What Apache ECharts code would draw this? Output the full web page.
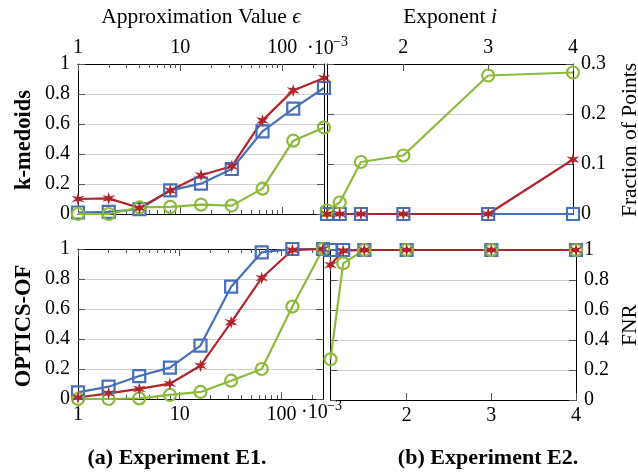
<!DOCTYPE html>
<html>
<head>
<meta charset="utf-8">
<script src="https://cdn.jsdelivr.net/npm/echarts@6/dist/echarts.min.js"></script>
<style>html,body{margin:0;padding:0;background:#fff}#c{width:638px;height:472px}</style>
</head>
<body>
<div id="c"></div>
<script>
// ---- data ----
const eps = [1, 2, 4, 8, 16, 32, 64, 128, 256];
const kmBlue  = [0.01, 0.014, 0.033, 0.158, 0.202, 0.30, 0.551, 0.702, 0.84];
const kmRed   = [0.10, 0.104, 0.04, 0.156, 0.258, 0.318, 0.624, 0.824, 0.907];
const kmGreen = [0, 0, 0.044, 0.047, 0.062, 0.056, 0.169, 0.489, 0.576];
const opBlue  = [0.044, 0.082, 0.153, 0.209, 0.356, 0.749, 0.978, 1, 1];
const opRed   = [0.01, 0.038, 0.067, 0.102, 0.222, 0.511, 0.807, 0.993, 1];
const opGreen = [0, 0, 0.004, 0.027, 0.047, 0.122, 0.2, 0.616, 1];

const exps = [1.1, 1.25, 1.5, 2, 3, 4];
const frBlue  = [0, 0, 0, 0, 0, 0];
const frRed   = [0, 0, 0, 0, 0, 0.109];
const frGreen = [0.007, 0.023, 0.104, 0.117, 0.277, 0.283];
const fnBlue  = [1, 1, 1, 1, 1, 1];
const fnRed   = [0.9, 0.995, 1, 1, 1, 1];
const fnGreen = [0.271, 0.911, 1, 1, 1, 1];

const epsMajorTicks = [1, 10, 100];
const epsMinorTicks = [2,3,4,5,6,7,8,9,20,30,40,50,60,70,80,90,200];
const expTicks = [2, 3, 4];

// ---- style ----
const FONT = 'Liberation Serif';
const BLUE = '#4770b8', RED = '#b0242b', GREEN = '#8cba3c';
const TICKC = '#555', GRIDC = '#cfcfcf';
const STAR = 'path://M50,0 L59,34.4 L93.3,25 L68,50 L93.3,75 L59,65.6 L50,100 L41,65.6 L6.7,75 L32,50 L6.7,25 L41,34.4 Z';
const AXLINE = {show: true, onZero: false, lineStyle: {color: '#000', width: 1}};

const zip = (xs, ys) => xs.map((x, i) => [x, ys[i]]);

function logX(grid, pos, ticks, len, labels) {
  return {
    type: 'log', logBase: 10, min: 1, max: 256, gridIndex: grid, position: pos,
    axisLine: AXLINE,
    axisTick: {show: true, inside: true, length: len, customValues: ticks, lineStyle: {color: TICKC, width: 1}},
    axisLabel: labels ? {show: true, customValues: epsMajorTicks, margin: 6, fontFamily: FONT, fontSize: 20, color: '#000'} : {show: false},
    splitLine: {show: false}, minorTick: {show: false}
  };
}
function linX(grid, pos, labels) {
  return {
    type: 'value', min: 1.1, max: 4, gridIndex: grid, position: pos,
    axisLine: AXLINE,
    axisTick: {show: true, inside: true, length: 7, customValues: expTicks, lineStyle: {color: TICKC, width: 1}},
    axisLabel: labels ? {show: true, customValues: expTicks, margin: 6, fontFamily: FONT, fontSize: 20, color: '#000'} : {show: false},
    splitLine: {show: false}
  };
}
function valY(grid, pos, max, interval, labels) {
  return {
    type: 'value', min: 0, max: max, interval: interval, gridIndex: grid, position: pos,
    axisLine: AXLINE,
    axisTick: {show: true, inside: true, length: 7, lineStyle: {color: TICKC, width: 1}},
    axisLabel: labels ? {show: true, margin: 8, fontFamily: FONT, fontSize: 20, color: '#000'} : {show: false},
    splitLine: labels ? {show: true, lineStyle: {color: GRIDC, width: 1}} : {show: false}
  };
}

function ser(xi, yi, xs, ys, kind) {
  const base = {type: 'line', xAxisIndex: xi, yAxisIndex: yi, data: zip(xs, ys), clip: false, animation: false, z: 3};
  if (kind === 'b') return Object.assign(base, {symbol: 'rect', symbolSize: 12, lineStyle: {color: BLUE, width: 2.2},
    itemStyle: {color: 'rgba(0,0,0,0)', borderColor: BLUE, borderWidth: 2.2}});
  if (kind === 'g') return Object.assign(base, {symbol: 'circle', symbolSize: 12, lineStyle: {color: GREEN, width: 2.2},
    itemStyle: {color: 'rgba(0,0,0,0)', borderColor: GREEN, borderWidth: 2.2}});
  return Object.assign(base, {symbol: STAR, symbolSize: 13, lineStyle: {color: RED, width: 2.2},
    itemStyle: {color: RED, borderWidth: 0}});
}

function txt(x, y, text, opts) {
  return {type: 'text', x: x, y: y, rotation: (opts && opts.rot) || 0, z: 10,
    style: Object.assign({text: text, fontFamily: FONT, fontSize: 21.5, fill: '#000',
      align: 'center', verticalAlign: 'middle', textAlign: 'center', textVerticalAlign: 'middle'}, (opts && opts.style) || {})};
}

const chart = echarts.init(document.getElementById('c'), null, {renderer: 'canvas'});
const gridStyle = {show: false, containLabel: false};
chart.setOption({
  animation: false,
  grid: [
    Object.assign({left: 78, top: 64, width: 246, height: 150}, gridStyle),
    Object.assign({left: 327, top: 64, width: 246, height: 150}, gridStyle),
    Object.assign({left: 78, top: 249, width: 245, height: 150}, gridStyle),
    Object.assign({left: 330.5, top: 250, width: 245.5, height: 150}, gridStyle)
  ],
  xAxis: [
    logX(0, 'top', epsMajorTicks, 7, true),
    logX(0, 'top', epsMinorTicks, 4, false),
    logX(0, 'bottom', epsMajorTicks, 7, false),
    logX(0, 'bottom', epsMinorTicks, 4, false),
    linX(1, 'top', true),
    linX(1, 'bottom', false),
    logX(2, 'bottom', epsMajorTicks, 7, true),
    logX(2, 'bottom', epsMinorTicks, 4, false),
    logX(2, 'top', epsMajorTicks, 7, false),
    logX(2, 'top', epsMinorTicks, 4, false),
    linX(3, 'bottom', true),
    linX(3, 'top', false)
  ],
  yAxis: [
    valY(0, 'left', 1, 0.2, true),
    valY(0, 'right', 1, 0.2, false),
    valY(1, 'right', 0.3, 0.1, true),
    valY(1, 'left', 0.3, 0.1, false),
    valY(2, 'left', 1, 0.2, true),
    valY(2, 'right', 1, 0.2, false),
    valY(3, 'right', 1, 0.2, true),
    valY(3, 'left', 1, 0.2, false)
  ],
  series: [
    ser(0, 0, eps, kmBlue, 'b'), ser(0, 0, eps, kmGreen, 'g'), ser(0, 0, eps, kmRed, 'r'),
    ser(4, 2, exps, frBlue, 'b'), ser(4, 2, exps, frGreen, 'g'), ser(4, 2, exps, frRed, 'r'),
    ser(6, 4, eps, opBlue, 'b'), ser(6, 4, eps, opGreen, 'g'), ser(6, 4, eps, opRed, 'r'),
    ser(10, 6, exps, fnBlue, 'b'), ser(10, 6, exps, fnGreen, 'g'), ser(10, 6, exps, fnRed, 'r')
  ],
  graphic: [
    {type: 'text', x: 201, y: 17, z: 10, style: {text: '{a|Approximation Value }{e|ϵ}', align: 'center', verticalAlign: 'middle', textAlign: 'center', textVerticalAlign: 'middle',
      rich: {a: {fontFamily: FONT, fontSize: 21.5, fill: '#000'}, e: {fontFamily: FONT, fontSize: 21.5, fontStyle: 'italic', fill: '#000'}}}},
    {type: 'text', x: 450, y: 17, z: 10, style: {text: '{a|Exponent }{e|i}', align: 'center', verticalAlign: 'middle', textAlign: 'center', textVerticalAlign: 'middle',
      rich: {a: {fontFamily: FONT, fontSize: 21.5, fill: '#000'}, e: {fontFamily: FONT, fontSize: 21.5, fontStyle: 'italic', fill: '#000'}}}},
    txt(24, 140, 'k-medoids', {rot: Math.PI / 2, style: {fontWeight: 'bold', fontSize: 22.5}}),
    txt(24, 326, 'OPTICS-OF', {rot: Math.PI / 2, style: {fontWeight: 'bold', fontSize: 22.5}}),
    txt(630, 140, 'Fraction of Points', {rot: Math.PI / 2}),
    txt(630, 325, 'FNR', {rot: Math.PI / 2}),
    txt(177, 458, '(a) Experiment E1.', {style: {fontWeight: 'bold', fontSize: 22}}),
    txt(488, 458, '(b) Experiment E2.', {style: {fontWeight: 'bold', fontSize: 22}}),
    txt(307, 49, '·10', {style: {fontSize: 20, align: 'left', textAlign: 'left'}}),
    txt(333, 42, '−3', {style: {fontSize: 14, align: 'left', textAlign: 'left'}}),
    txt(301, 413, '·10', {style: {fontSize: 20, align: 'left', textAlign: 'left'}}),
    txt(327, 406, '−3', {style: {fontSize: 14, align: 'left', textAlign: 'left'}})
  ]
});
</script>
</body>
</html>
